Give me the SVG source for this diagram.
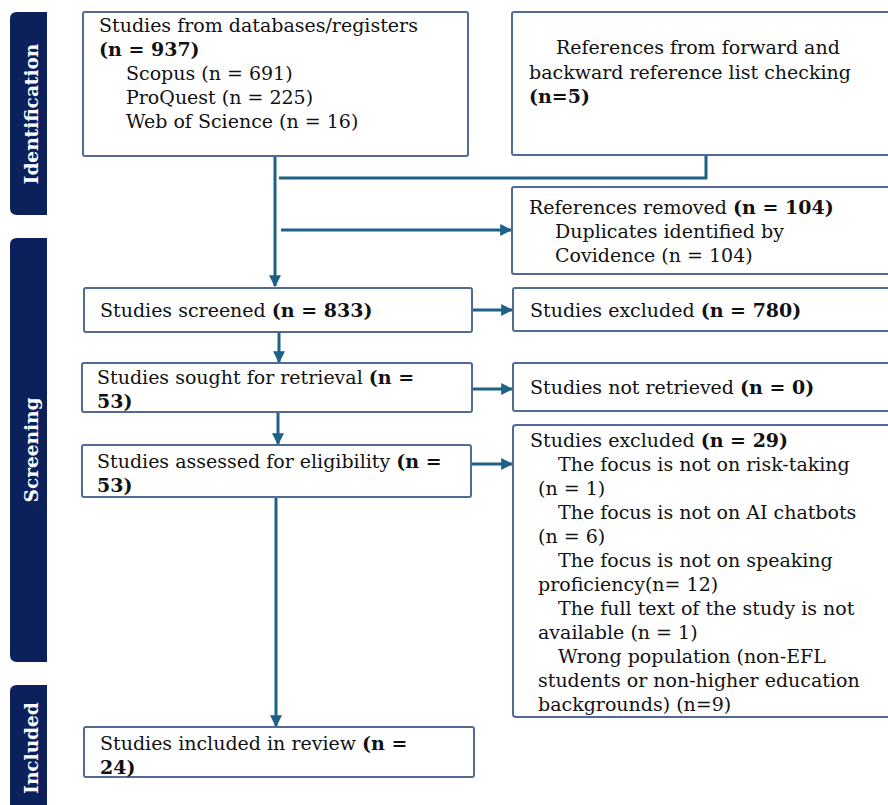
<svg xmlns="http://www.w3.org/2000/svg" width="888" height="805" viewBox="0 0 888 805">
<style>
.box{fill:#fff;stroke:#4f6b96;stroke-width:2}
.bar{fill:#0c215c}
.bt{fill:#fff;font-family:"DejaVu Serif","Liberation Serif",serif;font-weight:bold;font-size:18.5px;text-anchor:middle}
.t{font-family:"DejaVu Serif","Liberation Serif",serif;font-size:19px;fill:#111}
.b{font-weight:bold}
.c{fill:none;stroke:#1d6186;stroke-width:3}
</style>
<defs>
<marker id="ah" viewBox="0 0 10 10" refX="9" refY="5" markerWidth="4" markerHeight="4" orient="auto" markerUnits="strokeWidth">
<path d="M0,0 L10,5 L0,10 z" fill="#1d6186"/>
</marker>
</defs>
<g id="bar-identification">
<path class="bar" d="M47,12 L17,12 Q10,12 10,19 L10,208 Q10,215 17,215 L47,215 z"/>
<text class="bt" transform="translate(38,114) rotate(-90)">Identification</text>
</g>
<g id="bar-screening">
<path class="bar" d="M47,238 L17,238 Q10,238 10,245 L10,655 Q10,662 17,662 L47,662 z"/>
<text class="bt" transform="translate(38,450) rotate(-90)">Screening</text>
</g>
<g id="bar-included">
<path class="bar" d="M47,685 L17,685 Q10,685 10,692 L10,805 L47,805 z"/>
<text class="bt" transform="translate(38,748) rotate(-90)">Included</text>
</g>
<g id="connectors">
<path class="c" d="M275,156 L275,286" marker-end="url(#ah)"/>
<path class="c" d="M706,155 L706,178 L279,178"/>
<path class="c" d="M281,230 L511,230" marker-end="url(#ah)"/>
<path class="c" d="M472,310 L512,310" marker-end="url(#ah)"/>
<path class="c" d="M279,332 L279,362" marker-end="url(#ah)"/>
<path class="c" d="M472,389 L512,389" marker-end="url(#ah)"/>
<path class="c" d="M278,412 L278,444" marker-end="url(#ah)"/>
<path class="c" d="M472,464 L512,464" marker-end="url(#ah)"/>
<path class="c" d="M276,497 L276,726" marker-end="url(#ah)"/>
</g>
<g id="n-databases">
<rect class="box" x="83" y="12" width="385" height="144" rx="2"/>
<text class="t" x="99" y="32">Studies from databases/registers</text>
<text class="t b" x="99" y="56">(n = 937)</text>
<text class="t" x="126" y="80">Scopus (n = 691)</text>
<text class="t" x="126" y="104">ProQuest (n = 225)</text>
<text class="t" x="126" y="128">Web of Science (n = 16)</text>
</g>
<g id="n-forward">
<rect class="box" x="512" y="12" width="386" height="143" rx="2"/>
<text class="t" x="556" y="54">References from forward and</text>
<text class="t" x="529" y="79">backward reference list checking</text>
<text class="t b" x="529" y="103">(n=5)</text>
</g>
<g id="n-removed">
<rect class="box" x="512" y="187" width="386" height="87" rx="2"/>
<text class="t" x="529" y="214">References removed <tspan class="b">(n = 104)</tspan></text>
<text class="t" x="555" y="238">Duplicates identified by</text>
<text class="t" x="555" y="262">Covidence (n = 104)</text>
</g>
<g id="n-screened">
<rect class="box" x="84" y="288" width="388" height="44" rx="2"/>
<text class="t" x="100" y="317">Studies screened <tspan class="b">(n = 833)</tspan></text>
</g>
<g id="n-excluded780">
<rect class="box" x="513" y="288" width="385" height="43" rx="2"/>
<text class="t" x="530" y="317">Studies excluded <tspan class="b">(n = 780)</tspan></text>
</g>
<g id="n-sought">
<rect class="box" x="82" y="363" width="390" height="49" rx="2"/>
<text class="t" x="97" y="384">Studies sought for retrieval <tspan class="b">(n =</tspan></text>
<text class="t b" x="97" y="408">53)</text>
</g>
<g id="n-notretrieved">
<rect class="box" x="513" y="363" width="385" height="48" rx="2"/>
<text class="t" x="530" y="394">Studies not retrieved <tspan class="b">(n = 0)</tspan></text>
</g>
<g id="n-assessed">
<rect class="box" x="82" y="445" width="389" height="52" rx="2"/>
<text class="t" x="97" y="468">Studies assessed for eligibility <tspan class="b">(n =</tspan></text>
<text class="t b" x="97" y="492">53)</text>
</g>
<g id="n-excluded29">
<rect class="box" x="513" y="425" width="385" height="292" rx="3"/>
<text class="t" x="530" y="447">Studies excluded <tspan class="b">(n = 29)</tspan></text>
<text class="t" x="558" y="471">The focus is not on risk-taking</text>
<text class="t" x="538" y="495">(n = 1)</text>
<text class="t" x="558" y="519">The focus is not on AI chatbots</text>
<text class="t" x="538" y="543">(n = 6)</text>
<text class="t" x="558" y="567">The focus is not on speaking</text>
<text class="t" x="538" y="591">proficiency(n= 12)</text>
<text class="t" x="558" y="615">The full text of the study is not</text>
<text class="t" x="538" y="639">available (n = 1)</text>
<text class="t" x="558" y="663">Wrong population (non-EFL</text>
<text class="t" x="538" y="687">students or non-higher education</text>
<text class="t" x="538" y="711">backgrounds) (n=9)</text>
</g>
<g id="n-included">
<rect class="box" x="84" y="727" width="390" height="50" rx="2"/>
<text class="t" x="100" y="750">Studies included in review <tspan class="b">(n =</tspan></text>
<text class="t b" x="100" y="774">24)</text>
</g>
</svg>
